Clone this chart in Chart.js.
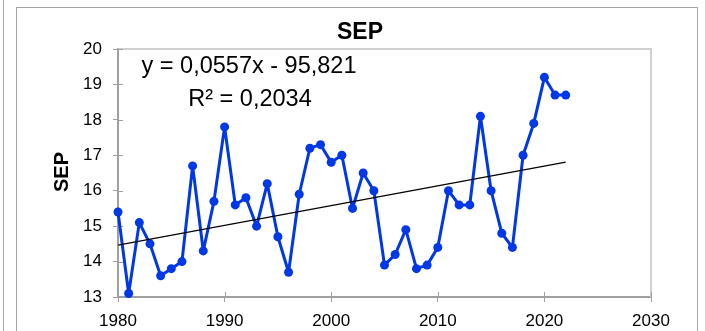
<!DOCTYPE html>
<html>
<head>
<meta charset="utf-8">
<script src="https://cdn.jsdelivr.net/npm/chart.js@4/dist/chart.umd.min.js"></script>
<style>
    html, body { margin: 0; padding: 0; background: #fff; }
    body { width: 705px; height: 331px; position: relative; overflow: hidden; }
    .frame-left { position: absolute; left: 3px; top: 0; width: 0; height: 340px; border-right: 1.5px solid #a6a6a6; }
    .frame { position: absolute; left: 16px; top: 7px; width: 682px; height: 340px; border: 1.5px solid #a6a6a6; box-sizing: border-box; }
    #chart { position: absolute; left: 0; top: 0; }
</style>
</head>
<body>
<div class="frame-left"></div>
<div class="frame"></div>
<canvas id="chart" width="705" height="331"></canvas>
<script>
// September values by year
const years = [1980, 1981, 1982, 1983, 1984, 1985, 1986, 1987, 1988, 1989,
               1990, 1991, 1992, 1993, 1994, 1995, 1996, 1997, 1998, 1999,
               2000, 2001, 2002, 2003, 2004, 2005, 2006, 2007, 2008, 2009,
               2010, 2011, 2012, 2013, 2014, 2015, 2016, 2017, 2018, 2019,
               2020, 2021, 2022];
const sepValues = [15.4, 13.1, 15.1, 14.5, 13.6, 13.8, 14.0, 16.7, 14.3, 15.7,
                   17.8, 15.6, 15.8, 15.0, 16.2, 14.7, 13.7, 15.9, 17.2, 17.3,
                   16.8, 17.0, 15.5, 16.5, 16.0, 13.9, 14.2, 14.9, 13.8, 13.9,
                   14.4, 16.0, 15.6, 15.6, 18.1, 16.0, 14.8, 14.4, 17.0, 17.9,
                   19.2, 18.7, 18.7];
const xTicks = [1980, 1990, 2000, 2010, 2020, 2030];
const yTicks = [13, 14, 15, 16, 17, 18, 19, 20];

// Linear trend as printed on the chart
const slope = 0.0557;
const intercept = -95.821;
const equationText = 'y = 0,0557x - 95,821';
const r2Text = 'R² = 0,2034';

const seriesPoints = years.map((yr, i) => ({ x: yr, y: sepValues[i] }));
const trendPoints = [years[0], years[years.length - 1]].map(yr => ({ x: yr, y: slope * yr + intercept }));

const axisGray = '#a0a0a0';
const fontFamily = '"Liberation Sans", Arial, sans-serif';

// Title, axis title, equation and plot frame
const decorations = {
    id: 'decorations',
    beforeDatasetsDraw(chart) {
        const { ctx, chartArea: a } = chart;
        ctx.save();
        ctx.strokeStyle = '#d0d0d0';
        ctx.lineWidth = 2;
        ctx.beginPath();
        ctx.moveTo(a.left, a.top);
        ctx.lineTo(a.right, a.top);
        ctx.lineTo(a.right, a.bottom);
        ctx.stroke();

        // inner halves of the tick marks
        ctx.strokeStyle = axisGray;
        ctx.lineWidth = 1;
        const xs = chart.scales.x, ys = chart.scales.y;
        ctx.beginPath();
        xTicks.forEach(v => {
            const px = Math.round(xs.getPixelForValue(v)) + 0.5;
            ctx.moveTo(px, a.bottom);
            ctx.lineTo(px, a.bottom - 5);
        });
        yTicks.forEach(v => {
            const py = Math.round(ys.getPixelForValue(v)) + 0.5;
            ctx.moveTo(a.left, py);
            ctx.lineTo(a.left + 5, py);
        });
        ctx.stroke();
        ctx.restore();
    },
    afterDraw(chart) {
        const ctx = chart.ctx;
        ctx.save();
        ctx.fillStyle = '#000';
        ctx.textAlign = 'center';
        ctx.textBaseline = 'middle';
        ctx.font = 'bold 23px ' + fontFamily;
        ctx.fillText('SEP', 360, 33);

        ctx.font = '23.5px ' + fontFamily;
        ctx.fillText(equationText, 249, 67);
        ctx.fillText(r2Text, 250, 100);

        ctx.translate(62, 172);
        ctx.rotate(-Math.PI / 2);
        ctx.font = 'bold 20px ' + fontFamily;
        ctx.fillText('SEP', 0, 0);
        ctx.restore();
    }
};

const ctx = document.getElementById('chart').getContext('2d');
const sepChart = new Chart(ctx, {
    type: 'line',
    data: {
        datasets: [{
            label: 'Trend',
            data: trendPoints,
            borderColor: '#000000',
            borderWidth: 1.3,
            pointRadius: 0,
            fill: false,
            order: 0
        }, {
            label: 'SEP',
            data: seriesPoints,
            borderColor: '#0038e8',
            backgroundColor: '#0038e8',
            borderWidth: 3,
            borderJoinStyle: 'round',
            pointRadius: 4.5,
            pointBorderWidth: 0,
            tension: 0,
            fill: false,
            clip: false,
            order: 1
        }]
    },
    options: {
        responsive: false,
        animation: false,
        layout: {
            padding: { left: 0, right: 54, top: 49, bottom: 0 }
        },
        plugins: {
            legend: { display: false },
            tooltip: { enabled: false },
            title: { display: false }
        },
        scales: {
            x: {
                type: 'linear',
                min: 1980,
                max: 2030,
                afterBuildTicks(scale) {
                    scale.ticks = xTicks.map(v => ({ value: v }));
                },
                afterFit(scale) { scale.height = 34; },
                border: { color: axisGray, width: 2 },
                grid: { drawOnChartArea: false, drawTicks: true, tickLength: 5, color: axisGray },
                ticks: {
                    color: '#000',
                    padding: 9,
                    maxRotation: 0,
                    font: { family: fontFamily, size: 17 },
                    callback: v => String(v)
                }
            },
            y: {
                min: 13,
                max: 20,
                afterBuildTicks(scale) {
                    scale.ticks = yTicks.map(v => ({ value: v }));
                },
                afterFit(scale) { scale.width = 118; },
                border: { color: axisGray, width: 2 },
                grid: { drawOnChartArea: false, drawTicks: true, tickLength: 5, color: axisGray },
                ticks: {
                    color: '#000',
                    padding: 11,
                    font: { family: fontFamily, size: 17 }
                }
            }
        }
    },
    plugins: [decorations]
});
</script>
</body>
</html>
